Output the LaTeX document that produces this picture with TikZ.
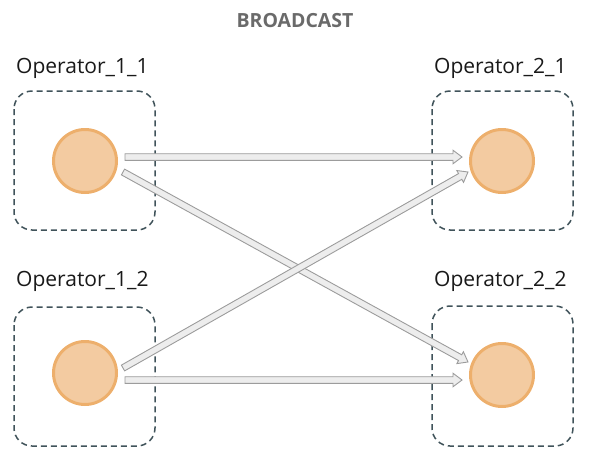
\documentclass[tikz,border=0pt]{standalone}
\usepackage{fontspec}
\setmainfont{Open Sans}
\usetikzlibrary{calc}
\definecolor{boxedge}{HTML}{40535A}
\definecolor{opfill}{HTML}{F3CBA1}
\definecolor{opedge}{HTML}{EDAF6C}
\definecolor{arrfill}{HTML}{EDEDED}
\definecolor{arredge}{HTML}{9C9C9C}
\definecolor{titlegray}{HTML}{6A6A6A}
\newcommand\fatarrow[2]{%
  \coordinate (tmpC) at ($(#2)!9pt!(#1)$);
  \path[arrowbody] ($(#1)!3.3pt!90:(#2)$) -- ($(tmpC)!3.3pt!90:(#2)$) -- ($(tmpC)!6.8pt!90:(#2)$) -- (#2)
    -- ($(tmpC)!6.8pt!-90:(#2)$) -- ($(tmpC)!3.3pt!-90:(#2)$) -- ($(#1)!3.3pt!-90:(#2)$) -- cycle;}
\begin{document}
\begin{tikzpicture}[x=1pt,y=-1pt,
  opbox/.style={draw=boxedge, line width=1.5pt, dash pattern=on 6pt off 4pt, rounded corners=18pt},
  opnode/.style={circle, fill=opfill, draw=opedge, line width=3pt, minimum size=63pt, inner sep=0pt},
  oplabel/.style={anchor=base west, font=\fontsize{21}{24}\selectfont, text=black!90, inner sep=0pt},
  arrowbody/.style={fill=arrfill, draw=arredge, line width=0.9pt, line join=miter}]
\useasboundingbox (0,0) rectangle (592,458);
\node[anchor=base, font=\bfseries\fontsize{19.5}{22}\selectfont, text=titlegray, inner sep=0pt] (title) at (295,27) {BROADCAST};
% boxes
\draw[opbox] (14,91) rectangle (155,230);
\draw[opbox] (432,91) rectangle (573,230);
\draw[opbox] (14,307) rectangle (155,446);
\draw[opbox] (432,306) rectangle (573,446);
% labels
\node[oplabel] (l11) at (16,73) {Operator\_1\_1};
\node[oplabel] (l21) at (434,73) {Operator\_2\_1};
\node[oplabel] (l12) at (16,286) {Operator\_1\_2};
\node[oplabel] (l22) at (434,286) {Operator\_2\_2};
% operators
\node[opnode] (c11) at (85,161) {};
\node[opnode] (c21) at (502,161) {};
\node[opnode] (c12) at (85,373) {};
\node[opnode] (c22) at (502,375) {};
% arrow endpoints
\coordinate (s1) at (125,157);
\coordinate (e1) at (462,157);
\coordinate (s2) at (123,172);
\coordinate (e2) at (468,362);
\coordinate (s3) at (123,368);
\coordinate (e3) at (468,172);
\coordinate (s4) at (125,380);
\coordinate (e4) at (462,380);
\fatarrow{s1}{e1}
\fatarrow{s2}{e2}
\fatarrow{s3}{e3}
\fatarrow{s4}{e4}
\end{tikzpicture}
\end{document}
